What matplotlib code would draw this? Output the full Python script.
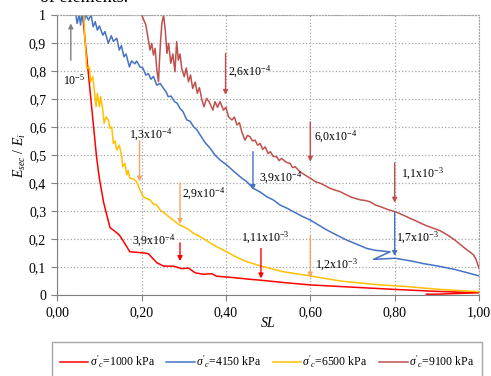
import matplotlib
matplotlib.use("Agg")
import matplotlib.pyplot as plt
from matplotlib.lines import Line2D
from matplotlib.patches import Rectangle

plt.rcParams["font.family"] = "Liberation Serif"
plt.rcParams["mathtext.fontset"] = "custom"
plt.rcParams["mathtext.rm"] = "Liberation Serif"
plt.rcParams["mathtext.it"] = "Liberation Serif:italic"

# ── data: secant stiffness ratio vs stress level ────────────────────────────
sl_1000 = [0.06, 0.093, 0.0997, 0.11, 0.125, 0.135, 0.147, 0.16, 0.172, 0.19,
           0.21, 0.216, 0.236, 0.252, 0.275, 0.295, 0.311, 0.327, 0.346, 0.366,
           0.378, 0.418, 0.457, 0.481, 0.54, 0.6, 0.7, 0.8, 0.9, 1.0, 0.9, 0.875]
e_1000 = [1.0, 0.494, 0.417, 0.33, 0.241, 0.23, 0.215, 0.185, 0.155, 0.153,
          0.15, 0.148, 0.116, 0.104, 0.104, 0.095, 0.097, 0.08, 0.075, 0.077,
          0.068, 0.063, 0.057, 0.054, 0.045, 0.037, 0.029, 0.021, 0.014, 0.009,
          0.004, 0.004]

sl_4150 = [0.044, 0.047, 0.052, 0.055, 0.058, 0.063, 0.067, 0.074, 0.08, 0.085,
           0.09, 0.095, 0.1, 0.108, 0.113, 0.121, 0.128, 0.133, 0.141, 0.147,
           0.152, 0.158, 0.163, 0.171, 0.176, 0.184, 0.188, 0.196, 0.203, 0.21,
           0.216, 0.222, 0.228, 0.236, 0.244, 0.252, 0.258, 0.263, 0.27, 0.278,
           0.284, 0.291, 0.298, 0.307, 0.315, 0.323, 0.331, 0.339, 0.35, 0.362,
           0.374, 0.386, 0.402, 0.42, 0.433, 0.449, 0.465, 0.481, 0.497, 0.512,
           0.528, 0.545, 0.56, 0.58, 0.6, 0.62, 0.639, 0.662, 0.686, 0.71,
           0.734, 0.755, 0.789, 0.75, 0.801, 0.84, 0.868, 0.9, 0.94, 0.971, 1.0]
e_4150 = [1.0, 0.969, 1.0, 0.963, 1.0, 0.969, 1.0, 0.981, 1.0, 0.957,
          0.975, 0.945, 0.96, 0.927, 0.94, 0.898, 0.925, 0.905, 0.916, 0.874,
          0.89, 0.85, 0.86, 0.814, 0.835, 0.825, 0.835, 0.814, 0.81, 0.785,
          0.79, 0.77, 0.78, 0.749, 0.755, 0.737, 0.725, 0.708, 0.71, 0.69,
          0.685, 0.666, 0.655, 0.625, 0.62, 0.601, 0.59, 0.571, 0.545, 0.525,
          0.5, 0.482, 0.464, 0.44, 0.423, 0.405, 0.381, 0.368, 0.351, 0.34,
          0.322, 0.31, 0.298, 0.282, 0.268, 0.25, 0.233, 0.215, 0.197, 0.182,
          0.167, 0.16, 0.155, 0.128, 0.132, 0.122, 0.113, 0.105, 0.093, 0.081, 0.069]

sl_6500 = [0.063, 0.066, 0.07, 0.076, 0.079, 0.084, 0.087, 0.092, 0.095, 0.1,
           0.103, 0.108, 0.111, 0.116, 0.121, 0.125, 0.129, 0.133, 0.137, 0.141,
           0.147, 0.153, 0.155, 0.16, 0.165, 0.168, 0.172, 0.18, 0.188, 0.196,
           0.204, 0.212, 0.22, 0.228, 0.236, 0.244, 0.252, 0.26, 0.268, 0.275,
           0.283, 0.291, 0.307, 0.323, 0.339, 0.358, 0.378, 0.402, 0.426, 0.449,
           0.481, 0.536, 0.6, 0.671, 0.75, 0.829, 0.908, 1.0]
e_6500 = [1.0, 0.9, 0.809, 0.814, 0.761, 0.779, 0.743, 0.672, 0.72, 0.672,
          0.708, 0.66, 0.613, 0.636, 0.625, 0.595, 0.6, 0.541, 0.55, 0.518,
          0.535, 0.494, 0.458, 0.47, 0.429, 0.445, 0.417, 0.415, 0.405, 0.375,
          0.351, 0.345, 0.34, 0.325, 0.322, 0.304, 0.295, 0.286, 0.275, 0.268,
          0.258, 0.25, 0.239, 0.221, 0.209, 0.191, 0.173, 0.155, 0.135, 0.12,
          0.105, 0.084, 0.069, 0.051, 0.039, 0.031, 0.021, 0.013]

sl_9100 = [0.2, 0.21, 0.216, 0.22, 0.224, 0.228, 0.232, 0.236, 0.24, 0.242,
           0.245, 0.248, 0.252, 0.256, 0.26, 0.264, 0.269, 0.274, 0.279, 0.283,
           0.287, 0.291, 0.295, 0.301, 0.306, 0.311, 0.316, 0.321, 0.327, 0.332,
           0.337, 0.343, 0.348, 0.354, 0.36, 0.369, 0.374, 0.38, 0.386, 0.394,
           0.4, 0.406, 0.414, 0.42, 0.426, 0.432, 0.437, 0.445, 0.451, 0.457,
           0.463, 0.469, 0.475, 0.481, 0.487, 0.493, 0.5, 0.505, 0.512, 0.52,
           0.526, 0.532, 0.542, 0.552, 0.558, 0.564, 0.576, 0.588, 0.6, 0.612,
           0.624, 0.636, 0.647, 0.659, 0.671, 0.683, 0.695, 0.707, 0.719, 0.73,
           0.742, 0.754, 0.766, 0.785, 0.801, 0.82, 0.837, 0.855, 0.872, 0.89,
           0.908, 0.925, 0.94, 0.955, 0.967, 0.978, 0.987, 0.993, 0.997, 1.0]
e_9100 = [1.0, 0.963, 0.91, 0.874, 0.898, 0.856, 0.88, 0.803, 0.761, 0.827,
          0.91, 0.969, 1.0, 0.945, 0.862, 0.898, 0.827, 0.86, 0.797, 0.904,
          0.838, 0.86, 0.809, 0.779, 0.81, 0.761, 0.785, 0.737, 0.76, 0.72,
          0.74, 0.696, 0.672, 0.702, 0.69, 0.66, 0.69, 0.67, 0.69, 0.66,
          0.67, 0.636, 0.625, 0.635, 0.607, 0.615, 0.585, 0.553, 0.57, 0.565,
          0.55, 0.553, 0.535, 0.541, 0.52, 0.529, 0.505, 0.512, 0.495, 0.494,
          0.48, 0.488, 0.475, 0.47, 0.455, 0.458, 0.44, 0.428, 0.417, 0.405,
          0.399, 0.39, 0.381, 0.375, 0.369, 0.36, 0.351, 0.345, 0.34, 0.338,
          0.333, 0.322, 0.316, 0.305, 0.298, 0.286, 0.274, 0.262, 0.25, 0.24,
          0.23, 0.215, 0.2, 0.182, 0.167, 0.155, 0.144, 0.128, 0.11, 0.096]

series_labels = [r"$\sigma'_c$=1000 kPa", r"$\sigma'_c$=4150 kPa",
                 r"$\sigma'_c$=6500 kPa", r"$\sigma'_c$=9100 kPa"]

x_ticks = [0.0, 0.2, 0.4, 0.6, 0.8, 1.0]
x_tick_labels = ["0,00", "0,20", "0,40", "0,60", "0,80", "1,00"]
y_ticks = [0.0, 0.1, 0.2, 0.3, 0.4, 0.5, 0.6, 0.7, 0.8, 0.9, 1.0]
y_tick_labels = ["0", "0,1", "0,2", "0,3", "0,4", "0,5", "0,6", "0,7", "0,8", "0,9", "1"]

# strain markers: x, arrow tail y, arrow head y, label, label x, label y
marker_sl = [0.032, 0.399, 0.6, 0.8, 0.464, 0.8, 0.195, 0.291, 0.6, 0.291, 0.483]
marker_from = [0.838, 0.862, 0.618, 0.472, 0.512, 0.298, 0.55, 0.399, 0.211, 0.187, 0.167]
marker_to = [0.969, 0.714, 0.476, 0.33, 0.375, 0.14, 0.405, 0.254, 0.063, 0.122, 0.06]
marker_text = [r"10$^{-5}$", r"2,6x10$^{-4}$", r"6,0x10$^{-4}$", r"1,1x10$^{-3}$",
               r"3,9x10$^{-4}$", r"1,7x10$^{-3}$", r"1,3x10$^{-4}$", r"2,9x10$^{-4}$",
               r"1,2x10$^{-3}$", r"3,9x10$^{-4}$", r"1,11x10$^{-3}$"]
marker_tx = [0.014, 0.404, 0.609, 0.816, 0.478, 0.804, 0.17, 0.295, 0.611, 0.177, 0.436]
marker_ty = [0.767, 0.797, 0.565, 0.432, 0.417, 0.203, 0.571, 0.36, 0.108, 0.195, 0.205]

RED = "#FF0000"
BLUE = "#4472C4"
GOLD = "#FFC000"
BRICK = "#C0504D"
PEACH = "#F4A66A"
GREY = "#808080"
marker_color = [GREY, BRICK, BRICK, BRICK, BLUE, BLUE, PEACH, PEACH, PEACH, RED, RED]

# ── figure ──────────────────────────────────────────────────────────────────
fig = plt.figure(figsize=(4.91, 3.76), dpi=100)
ax = fig.add_axes([57.3 / 491, 80.7 / 376, 421.7 / 491, 280.6 / 376])

ax.plot(sl_1000, e_1000, color=RED, lw=1.1, label=series_labels[0])
ax.plot(sl_4150, e_4150, color=BLUE, lw=1.1, label=series_labels[1])
ax.plot(sl_6500, e_6500, color=GOLD, lw=1.1, label=series_labels[2])
ax.plot(sl_9100, e_9100, color=BRICK, lw=1.1, label=series_labels[3])

for x, y0, y1, txt, tx, ty, c in zip(marker_sl, marker_from, marker_to, marker_text,
                                     marker_tx, marker_ty, marker_color):
    ax.annotate("", xy=(x, y1), xytext=(x, y0),
                arrowprops=dict(arrowstyle="-|>", color=c, lw=1.0,
                                mutation_scale=7, shrinkA=0, shrinkB=0))
    ax.text(tx, ty, txt, fontsize=8.5, ha="left", va="center")

ax.set_xlim(0, 1)
ax.set_ylim(0, 1)
ax.set_xticks(x_ticks)
ax.set_xticklabels(x_tick_labels)
ax.set_yticks(y_ticks)
ax.set_yticklabels(y_tick_labels)
ax.tick_params(labelsize=10, length=4, width=0.8, color=GREY, pad=4)
ax.grid(color="#A6A6A6", linestyle=":", linewidth=0.9)
for side in ["left", "bottom"]:
    ax.spines[side].set_color(GREY)
for side in ["top", "right"]:
    ax.spines[side].set_color("#A6A6A6")
    ax.spines[side].set_linestyle(":")

ax.set_xlabel("SL", fontsize=10, style="italic", labelpad=-2)
ax.set_ylabel(r"$E_{sec}$ / $E_i$", fontsize=10, labelpad=1)

# legend below the plot, in a grey box running off the bottom edge
handles = [Line2D([], [], color=c, lw=1.1) for c in [RED, BLUE, GOLD, BRICK]]
fig.legend(handles, series_labels, loc="center", ncol=4, frameon=False,
           bbox_to_anchor=(267 / 491, 1 - 361.7 / 376), fontsize=8.5,
           handlelength=2.4, handletextpad=0.1, columnspacing=1.0)
fig.patches.append(Rectangle((52 / 491, -0.05), 430 / 491, 0.05 + (376 - 341.7) / 376,
                             transform=fig.transFigure, fill=False,
                             edgecolor="#A6A6A6", lw=1.0))

fig.text(40 / 491, 1 - 2 / 376, "of elements.", fontsize=13, va="baseline")

fig.savefig("out.png", dpi=100)
